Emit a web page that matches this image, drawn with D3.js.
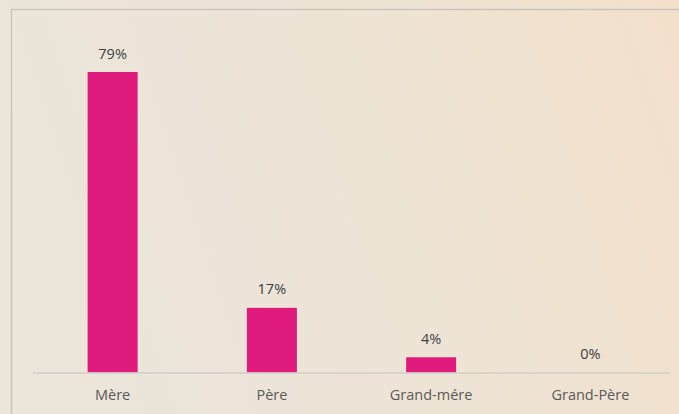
<!DOCTYPE html>
<html lang="fr">
<head>
<meta charset="UTF-8">
<title>Bar chart</title>
<script src="https://d3js.org/d3.v7.min.js"></script>
<style>
  html, body { margin: 0; padding: 0; background: #ede5d8; }
  svg { display: block; font-family: "Open Sans", "Noto Sans", sans-serif; }
</style>
</head>
<body>
<svg width="679" height="414"></svg>
<script>
const categories = ['Mère', 'Père', 'Grand-mére', 'Grand-Père'];
const values = [79, 17, 4, 0];

const svg = d3.select('svg');
const W = +svg.attr('width'), H = +svg.attr('height');

// paper-like background
const defs = svg.append('defs');
const bg = defs.append('linearGradient').attr('id', 'bg').attr('x1', 0).attr('y1', 0.2).attr('x2', 1).attr('y2', 0);
bg.append('stop').attr('offset', '0%').attr('stop-color', '#ebe5da');
bg.append('stop').attr('offset', '50%').attr('stop-color', '#eee4d6');
bg.append('stop').attr('offset', '100%').attr('stop-color', '#f2e0ca');
svg.append('rect').attr('width', W).attr('height', H).attr('fill', 'url(#bg)');

// frame
svg.append('path')
  .attr('d', `M11.5,${H} V9.5 H${W}`)
  .attr('fill', 'none').attr('stroke', '#c9c5be').attr('stroke-width', 1.5);

const x0 = 33, x1 = 670, base = 372.5;
const x = d3.scaleBand().domain(categories).range([x0, x1]).paddingInner(0.686).paddingOuter(0.343);
const y = d3.scaleLinear().domain([0, 79]).range([base, 72]);

const g = svg.append('g');

g.selectAll('.bar')
  .data(values)
  .enter().append('rect')
  .attr('class', 'bar')
  .attr('x', (d, i) => x(categories[i]))
  .attr('width', x.bandwidth())
  .attr('y', d => y(d))
  .attr('height', d => base - y(d))
  .attr('fill', '#e01b7e');

// baseline
g.append('line')
  .attr('x1', x0).attr('x2', x1)
  .attr('y1', base + 0.5).attr('y2', base + 0.5)
  .attr('stroke', '#d2cec8').attr('stroke-width', 1.5);

// value labels
g.selectAll('.val')
  .data(values)
  .enter().append('text')
  .attr('class', 'val')
  .attr('x', (d, i) => x(categories[i]) + x.bandwidth() / 2)
  .attr('y', d => y(d) - 13.5)
  .attr('text-anchor', 'middle')
  .attr('font-size', 14.5)
  .attr('fill', '#404040')
  .text(d => d + '%');

// category axis
const axis = d3.axisBottom(x).tickSize(0).tickPadding(17);
const ax = g.append('g').attr('transform', `translate(0,${base})`).call(axis);
ax.select('.domain').remove();
ax.selectAll('text').attr('font-size', 14.5).attr('fill', '#595959')
  .attr('font-family', '"Open Sans", "Noto Sans", sans-serif');
</script>
</body>
</html>
